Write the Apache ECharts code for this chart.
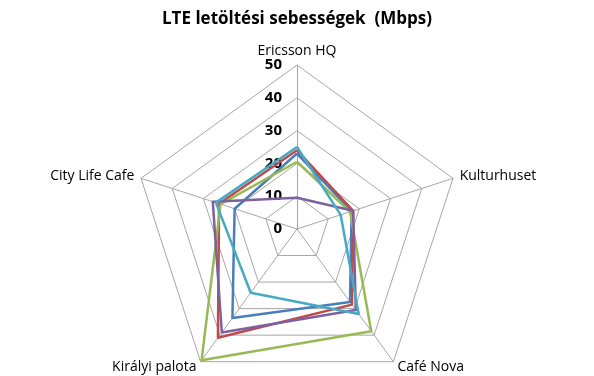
<!DOCTYPE html>
<html>
<head>
<meta charset="utf-8">
<script src="https://cdn.jsdelivr.net/npm/echarts@6/dist/echarts.min.js"></script>
<style>
  html, body { margin: 0; padding: 0; background: #fff; }
  #chart { width: 594px; height: 376px; }
</style>
</head>
<body>
<div id="chart"></div>
<script>
// tengelyek (indicators), az Excel sorrendjében (óramutató járásával egyezően)
var helyszinek = ['Ericsson HQ', 'Kulturhuset', 'Café Nova', 'Királyi palota', 'City Life Cafe'];
var tickLabels = [0, 10, 20, 30, 40, 50];

// adatsorok (Mbps)
var adatsor1 = [23, 17.5, 27.5, 33.5, 20];
var adatsor2 = [24, 18, 28.5, 41, 25];
var adatsor3 = [20.5, 17, 38.5, 49.5, 24.5];
var adatsor4 = [9.5, 18, 30.5, 39, 27];
var adatsor5 = [25, 14, 32, 24, 26];

var colors = ['#4A7EBB', '#BE4B48', '#98B954', '#7D60A0', '#46AAC5'];
var maxVal = tickLabels[tickLabels.length - 1];

// az echarts radar az óramutatóval ellentétesen halad, ezért megfordítjuk a sorrendet
var order = [0, 4, 3, 2, 1];
function reorder(arr) {
  return order.map(function (k) { return arr[k]; });
}

var chart = echarts.init(document.getElementById('chart'));

var indicators = reorder(helyszinek).map(function (n, i) {
  var ind = { name: n, min: 0, max: maxVal };
  if (i === 0) {
    // csak a felső tengelyen vannak skálafeliratok
    ind.axisLabel = {
      show: true,
      fontSize: 15,
      fontWeight: 'bold',
      color: '#000',
      fontFamily: 'Open Sans',
      margin: 15
    };
  }
  return ind;
});

var series = [adatsor1, adatsor2, adatsor3, adatsor4, adatsor5].map(function (d, i) {
  return {
    name: 'Adatsor' + (i + 1),
    type: 'radar',
    symbol: 'none',
    z: 2 + i,
    lineStyle: { color: colors[i], width: 2.5 },
    itemStyle: { color: colors[i] },
    data: [{ value: reorder(d) }]
  };
});

chart.setOption({
  animation: false,
  title: {
    text: 'LTE letöltési sebességek  (Mbps)',
    left: 'center',
    top: 6,
    textStyle: {
      fontFamily: 'Open Sans',
      fontSize: 17,
      fontWeight: 'bold',
      color: '#000'
    }
  },
  radar: {
    center: [297, 229],
    radius: 164,
    startAngle: 90,
    shape: 'polygon',
    splitNumber: 5,
    indicator: indicators,
    axisName: {
      color: '#000',
      fontSize: 14,
      fontFamily: 'Open Sans'
    },
    nameGap: 7,
    axisLabel: { show: false },
    axisTick: { show: false },
    axisLine: { lineStyle: { color: '#a6a6a6', width: 1 } },
    splitLine: { lineStyle: { color: '#a6a6a6', width: 1 } },
    splitArea: { show: false }
  },
  series: series
});
</script>
</body>
</html>
